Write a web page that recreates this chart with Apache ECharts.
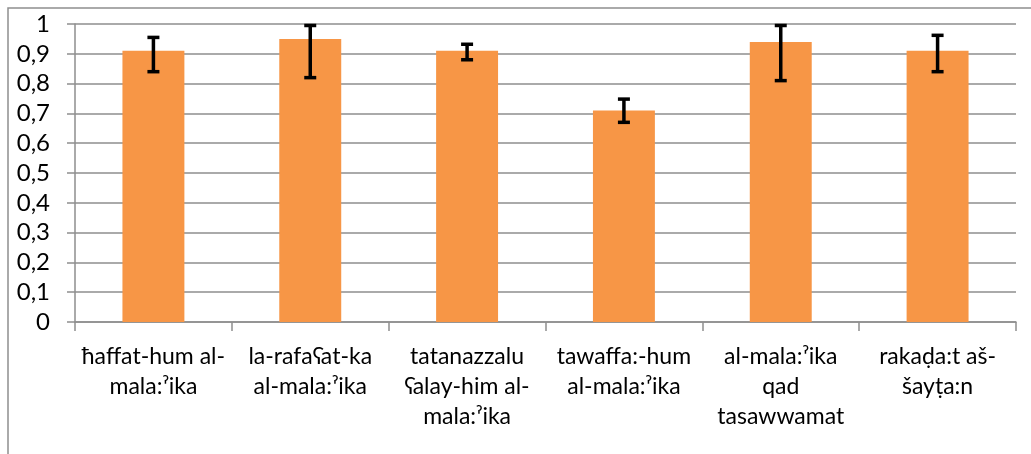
<!DOCTYPE html>
<html>
<head>
<meta charset="utf-8">
<script src="https://cdn.jsdelivr.net/npm/echarts@6/dist/echarts.min.js"></script>
<style>html,body{margin:0;padding:0;background:#fff}#c{width:1031px;height:454px}</style>
</head>
<body>
<div id="c"></div>
<script>
const categories = [
  "ħaffat-hum al-\nmala:ˀika",
  "la-rafaʕat-ka\nal-mala:ˀika",
  "tatanazzalu\nʕalay-him al-\nmala:ˀika",
  "tawaffa:-hum\nal-mala:ˀika",
  "al-mala:ˀika\nqad\ntasawwamat",
  "rakaḍa:t aš-\nšayṭa:n"
];
const values = [0.91, 0.95, 0.91, 0.71, 0.94, 0.91];
const errLow = [0.84, 0.82, 0.88, 0.67, 0.81, 0.84];
const errHigh = [0.955, 0.995, 0.932, 0.748, 0.995, 0.962];

const chart = echarts.init(document.getElementById('c'), null, {renderer: 'canvas'});
const font = 'Lato, "Open Sans", sans-serif';
const grid = '#8e8e8e';
chart.setOption({
  animation: false,
  backgroundColor: '#fff',
  graphic: [{
    type: 'rect', shape: {x: 8, y: 8, width: 1200, height: 600},
    style: {fill: 'none', stroke: '#8e8e8e', lineWidth: 1.5}, silent: true
  }],
  grid: {left: 75, right: 15, top: 24, bottom: 132, containLabel: false},
  xAxis: {
    type: 'category', data: categories,
    axisLine: {lineStyle: {color: grid, width: 1.5}},
    axisTick: {show: true, alignWithLabel: false, length: 9, lineStyle: {color: grid, width: 1.5}},
    axisLabel: {color: '#000', fontFamily: font, fontSize: 23, lineHeight: 30, margin: 20, interval: 0}
  },
  yAxis: {
    type: 'value', min: 0, max: 1, interval: 0.1,
    axisLine: {show: true, lineStyle: {color: grid, width: 1.5}},
    axisTick: {show: true, length: 8, lineStyle: {color: grid, width: 1.5}},
    splitLine: {show: true, lineStyle: {color: grid, width: 1.5}},
    axisLabel: {
      color: '#000', fontFamily: font, fontSize: 24, margin: 25,
      formatter: v => (v === 0 || v === 1) ? String(v) : v.toFixed(1).replace('.', ',')
    }
  },
  series: [{
    type: 'bar', data: values, barWidth: '39.5%',
    itemStyle: {color: '#F79646'}, z: 2
  }, {
    type: 'custom', z: 5,
    data: categories.map((c, i) => [i, errLow[i], errHigh[i]]),
    renderItem: function (params, api) {
      const i = api.value(0);
      const lo = api.coord([i, api.value(1)]);
      const hi = api.coord([i, api.value(2)]);
      const hw = 6;
      const st = {stroke: '#000', lineWidth: 3.5};
      return {
        type: 'group',
        children: [
          {type: 'line', shape: {x1: hi[0], y1: hi[1], x2: lo[0], y2: lo[1]}, style: st},
          {type: 'line', shape: {x1: hi[0] - hw, y1: hi[1], x2: hi[0] + hw, y2: hi[1]}, style: st},
          {type: 'line', shape: {x1: lo[0] - hw, y1: lo[1], x2: lo[0] + hw, y2: lo[1]}, style: st}
        ]
      };
    }
  }]
});
</script>
</body>
</html>
